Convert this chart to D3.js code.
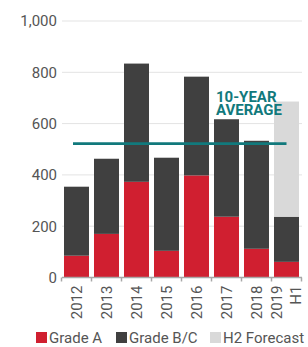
<!DOCTYPE html>
<html><head><meta charset="utf-8">
<script src="https://cdn.jsdelivr.net/npm/d3@7"></script>
<style>body{margin:0;background:#fff}svg{display:block}text{font-family:Roboto,"DejaVu Sans",sans-serif}</style>
</head><body>
<svg id="c" width="308" height="347"></svg>
<script>
const years = ["2012","2013","2014","2015","2016","2017","2018","2019\nH1"];
const gradeA = [85,170,373,104,398,237,112,61];
const gradeBC = [269,293,461,363,385,380,421,176];
const forecast = [0,0,0,0,0,0,0,449];
const average = 522;
const yTicks = [0,200,400,600,800,1000];
const legendLabels = ["Grade A","Grade B/C","H2 Forecast"];
const colors = ["#d01f30","#404040","#d9d9d9"];
const teal = "#11797c";

const svg = d3.select("#c");
const x = d3.scaleBand().domain(years).range([61.5,301.5]).paddingInner(1/6).paddingOuter(1/12);
const y = d3.scaleLinear().domain([0,1000]).range([277.5,21]);

// gridlines
svg.append("g").selectAll("line").data(yTicks.filter(d=>d>0)).join("line")
  .attr("x1",62).attr("x2",302).attr("y1",d=>y(d)).attr("y2",d=>y(d))
  .attr("stroke","#e3e3e3").attr("stroke-width",1);
// y labels
svg.append("g").selectAll("text").data(yTicks).join("text")
  .attr("x",57).attr("y",d=>y(d)).attr("dy","0.36em").attr("text-anchor","end")
  .attr("font-size",15).attr("fill","#555").text(d=>d3.format(",")(d));

// stacked bars
const rows = years.map((k,i)=>({k,a:gradeA[i],bc:gradeBC[i],f:forecast[i]}));
const stack = d3.stack().keys(["a","bc","f"])(rows);
svg.append("g").selectAll("g").data(stack).join("g").attr("fill",(d,i)=>colors[i])
  .selectAll("rect").data(d=>d).join("rect")
  .attr("x",d=>x(d.data.k)).attr("width",x.bandwidth())
  .attr("y",d=>y(d[1])).attr("height",d=>y(d[0])-y(d[1]));

// x axis
const ax = svg.append("g");
ax.append("line").attr("x1",62).attr("x2",302).attr("y1",y(0)).attr("y2",y(0)).attr("stroke","#a8a8a8").attr("stroke-width",1.5);
const bounds = years.map(k=>x(k)-x.step()*x.paddingInner()/2).concat([x(years[years.length-1])+x.bandwidth()+x.step()*x.paddingInner()/2]);
ax.selectAll(".tk").data(bounds).join("line").attr("class","tk")
  .attr("x1",d=>d).attr("x2",d=>d).attr("y1",y(0)).attr("y2",y(0)+4).attr("stroke","#a8a8a8").attr("stroke-width",1.5);
years.forEach(k=>{
  const lines = k.split("\n");
  const cx = x(k)+x.bandwidth()/2;
  lines.forEach((t,j)=>{
    const off = (j-(lines.length-1)/2)*18.5;
    svg.append("text").attr("transform",`translate(${cx+off+5},${y(0)+8}) rotate(-90)`)
      .attr("text-anchor","end").attr("font-size",15).attr("fill","#555").text(t);
  });
});

// average line
svg.append("line").attr("x1",x(years[0])+9).attr("x2",x(years[years.length-1])+x.bandwidth()/2)
  .attr("y1",y(average)).attr("y2",y(average)).attr("stroke",teal).attr("stroke-width",2.7);
const at = svg.append("text").attr("font-size",15).attr("font-weight","bold").attr("fill",teal);
at.append("tspan").attr("x",x("2017")+2).attr("y",y(average)-42).text("10-YEAR");
at.append("tspan").attr("x",x("2017")+2).attr("y",y(average)-28.3).text("AVERAGE");

// legend
const lg = svg.append("g");
const lx = [36,116,210];
legendLabels.forEach((t,i)=>{
  lg.append("rect").attr("x",lx[i]).attr("y",332).attr("width",11).attr("height",11).attr("fill",colors[i]);
  lg.append("text").attr("x",lx[i]+13).attr("y",343).attr("font-size",15).attr("fill","#555").text(t);
});
</script>
</body></html>
